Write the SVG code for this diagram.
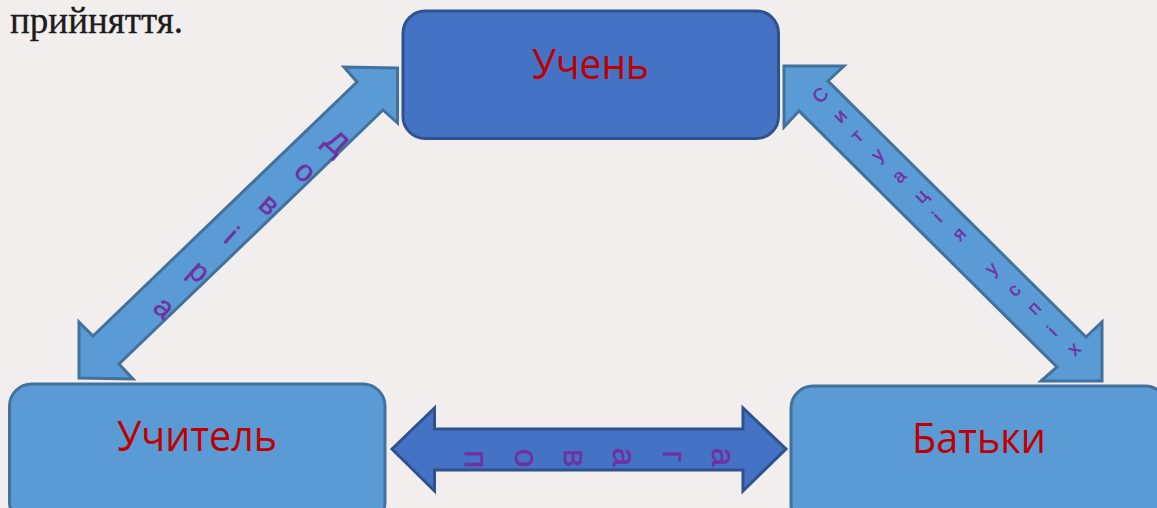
<svg xmlns="http://www.w3.org/2000/svg" width="1157" height="508" viewBox="0 0 1157 508">
<style>
.dark{fill:#4472c4;stroke:#2f528f;stroke-width:3}
.light{fill:#5b9bd5;stroke:#41719c;stroke-width:3}
.lab{font-family:"Open Sans","Noto Sans",sans-serif;font-size:42px;fill:#c00000}
.arr{font-family:"Liberation Sans",sans-serif;fill:#7030a0;stroke:#7030a0;stroke-width:.4}
</style>
<rect width="1157" height="508" fill="#f1eeed"/>
<text x="10" y="33" font-family="'Liberation Serif',serif" font-size="37" fill="#1c1c1c" stroke="#1c1c1c" stroke-width=".3" textLength="173" lengthAdjust="spacingAndGlyphs">прийняття.</text>
<g id="connectors">
<polygon class="light" points="397.5,68 344,67 357,82 93,336 79,322 79,378 133,379 119,364 383,110 397.5,123"/>
<polygon class="light" points="784,66 844,66 828,81 1086,337 1102,322 1102,381 1041,381 1057,367 799,111 784,127"/>
<polygon class="dark" points="392,449 434.5,408 434.5,429 743,429 743,408 786,449 743,491 743,470 434.5,470 434.5,491"/>
<text class="arr" font-size="30" x="322.2 292.6 256.9 222.3 186.6 151.6" y="143.2 173.2 206.5 240.8 273.2 309.2" rotate="42">Довіра</text>
<text class="arr" font-size="19" x="820 840.7 858.3 878.7 899.7 921.6 940.3 960 975 992.7 1015.1 1034.9 1055.3 1075.1" y="104.6 124.2 143.6 162.4 184.2 204.3 223.3 242 255 276.4 297.8 316 337.3 356.8" rotate="-45">Ситуація успіх</text>
<text class="arr" font-size="34" x="465.2 515.2 564.2 613.2 663.2 712.2" y="450 448.5 449 447.6 450.2 447.6" rotate="90">повага</text>
</g>
<g id="node-uchen">
<rect class="dark" x="403" y="11" width="375.5" height="127.5" rx="22"/>
<text class="lab" x="590.5" y="79" text-anchor="middle" textLength="117" lengthAdjust="spacingAndGlyphs">Учень</text>
</g>
<g id="node-uchytel">
<rect class="light" x="9.5" y="384" width="375.5" height="140" rx="22"/>
<text class="lab" x="197" y="451" text-anchor="middle" textLength="160" lengthAdjust="spacingAndGlyphs">Учитель</text>
</g>
<g id="node-batky">
<rect class="light" x="791" y="386" width="376" height="140" rx="22"/>
<text class="lab" x="979" y="453" text-anchor="middle" textLength="134" lengthAdjust="spacingAndGlyphs">Батьки</text>
</g>
</svg>
